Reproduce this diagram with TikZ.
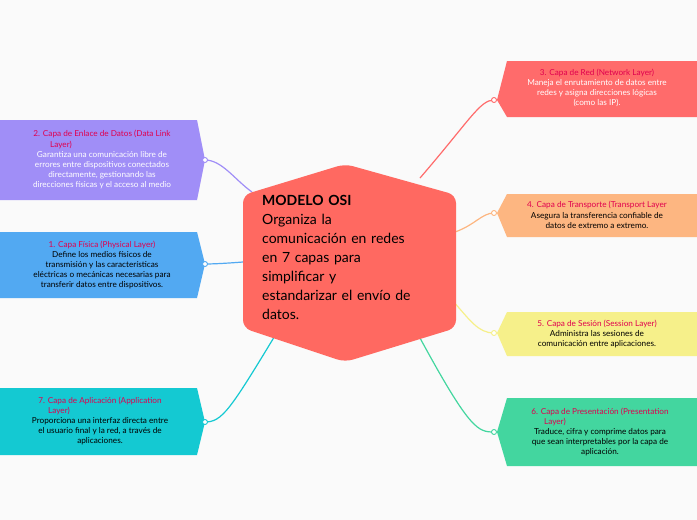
\documentclass[tikz,border=0pt]{standalone}
\usepackage{fontspec}
\setmainfont{Lato}
\definecolor{bg}{HTML}{FAFAFA}
\definecolor{ttl}{HTML}{E0004E}
\definecolor{cpurple}{HTML}{A08EF7}
\definecolor{cblue}{HTML}{52A9F2}
\definecolor{ccyan}{HTML}{14C9D2}
\definecolor{cred}{HTML}{FF6B6B}
\definecolor{corange}{HTML}{FDB681}
\definecolor{cyellow}{HTML}{F6F08A}
\definecolor{cgreen}{HTML}{43D69F}
\definecolor{ccenter}{HTML}{FF6961}
\begin{document}
\begin{tikzpicture}[x=1pt,y=-1pt,
  boxtxt/.style={align=center,font=\fontsize{8.2}{10.2}\selectfont,inner sep=0pt},
  wtxt/.style={boxtxt,text=white},
  con/.style={line width=1.2pt},
  dot/.style={circle,draw,fill=white,line width=0.9pt,minimum size=5pt,inner sep=0pt}]
\fill[bg] (0,0) rectangle (697,520);
\useasboundingbox (0,0) rectangle (697,520);
% connectors
\coordinate (h2) at (252,192); \coordinate (h1) at (243,262); \coordinate (h7) at (276,334);
\coordinate (h3) at (420,178); \coordinate (h4) at (455,232); \coordinate (h5) at (452,300); \coordinate (h6) at (420,338);
\coordinate (d2) at (205,160); \coordinate (d1) at (205,264); \coordinate (d7) at (205,422);
\coordinate (d3) at (494,100); \coordinate (d4) at (494,213); \coordinate (d5) at (494,333); \coordinate (d6) at (494,432);
\draw[con,cpurple] (h2) .. controls (235,180) and (222,160) .. (d2);
\draw[con,cblue] (h1) .. controls (230,263) and (215,264) .. (d1);
\draw[con,ccyan] (h7) .. controls (230,410) and (222,422) .. (d7);
\draw[con,cred] (h3) .. controls (470,120) and (480,100) .. (d3);
\draw[con,corange] (h4) .. controls (475,225) and (482,213) .. (d4);
\draw[con,cyellow] (h5) .. controls (470,320) and (478,333) .. (d5);
\draw[con,cgreen] (h6) .. controls (470,430) and (478,432) .. (d6);
% boxes
\fill[cpurple] (0,120) -- (197,120) -- (205,160) -- (197,200) -- (0,200) -- cycle;
\fill[cblue] (0,232) -- (197,232) -- (205,264) -- (197,298) -- (0,298) -- cycle;
\fill[ccyan] (0,388) -- (197,388) -- (205,422) -- (197,455) -- (0,455) -- cycle;
\fill[cred] (507,61) -- (697,61) -- (697,117) -- (507,117) -- (497,100) -- cycle;
\fill[corange] (507,194) -- (697,194) -- (697,237) -- (507,237) -- (497,213) -- cycle;
\fill[cyellow] (507,312) -- (697,312) -- (697,356) -- (507,356) -- (497,333) -- cycle;
\fill[cgreen] (507,398) -- (697,398) -- (697,466) -- (507,466) -- (497,432) -- cycle;
\foreach \d/\c in {d2/cpurple,d1/cblue,d7/ccyan,d3/cred,d4/corange,d5/cyellow,d6/cgreen}
  \node[dot,draw=\c] at (\d) {};
% center
\fill[ccenter,rounded corners=8pt] (243,195) -- (345,164) -- (456,195) -- (456,328) -- (345,362) -- (243,328) -- cycle;
\node[anchor=north west,align=left,inner sep=0pt,text width=200pt,font=\fontsize{14}{19}\selectfont] (c) at (262,195)
 {\textbf{MODELO OSI}\\ Organiza la\\ comunicación en redes\\ en 7 capas para\\ simplificar y\\ estandarizar el envío de\\ datos.};
% texts
\node[wtxt] (t2) at (102,160) {\textcolor{ttl}{2. Capa de Enlace de Datos (Data Link}\\\hspace*{-10em}\textcolor{ttl}{Layer)}\\ Garantiza una comunicación libre de\\ errores entre dispositivos conectados\\ directamente, gestionando las\\ direcciones físicas y el acceso al medio};
\node[boxtxt] (t1) at (102,265) {\textcolor{ttl}{1. Capa Física (Physical Layer)}\\ Define los medios físicos de\\ transmisión y las características\\ eléctricas o mecánicas necesarias para\\ transferir datos entre dispositivos.};
\node[boxtxt] (t7) at (100,421) {\textcolor{ttl}{7. Capa de Aplicación (Application}\\\hspace*{-10em}\textcolor{ttl}{Layer)}\\ Proporciona una interfaz directa entre\\ el usuario final y la red, a través de\\ aplicaciones.};
\node[wtxt] (t3) at (597,88) {\textcolor{ttl}{3. Capa de Red (Network Layer)}\\ Maneja el enrutamiento de datos entre\\ redes y asigna direcciones lógicas\\ (como las IP).};
\node[boxtxt] (t4) at (597,215) {\textcolor{ttl}{4. Capa de Transporte (Transport Layer}\\ Asegura la transferencia confiable de\\ datos de extremo a extremo.};
\node[boxtxt] (t5) at (597,334) {\textcolor{ttl}{5. Capa de Sesión (Session Layer)}\\ Administra las sesiones de\\ comunicación entre aplicaciones.};
\node[boxtxt] (t6) at (600,432) {\textcolor{ttl}{6. Capa de Presentación (Presentation}\\\hspace*{-11em}\textcolor{ttl}{Layer)}\\ Traduce, cifra y comprime datos para\\ que sean interpretables por la capa de\\ aplicación.};
\end{tikzpicture}
\end{document}
